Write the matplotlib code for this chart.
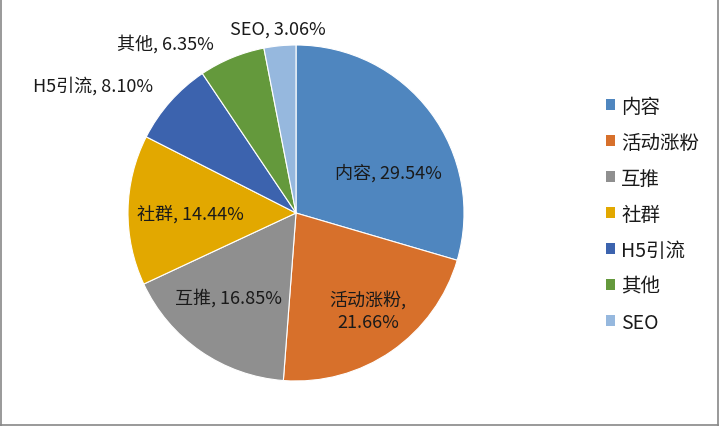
import matplotlib
matplotlib.use("Agg")
import matplotlib.pyplot as plt
import numpy as np
from matplotlib.patches import Patch
from matplotlib.lines import Line2D

plt.rcParams['font.family'] = ['Noto Sans CJK SC', 'DejaVu Sans']

categories = ['内容', '活动涨粉', '互推', '社群', 'H5引流', '其他', 'SEO']
values = [29.54, 21.66, 16.85, 14.44, 8.10, 6.35, 3.06]
label_texts = ['内容, 29.54%', '活动涨粉,\n21.66%', '互推, 16.85%', '社群, 14.44%',
               'H5引流, 8.10%', '其他, 6.35%', 'SEO, 3.06%']

colors = ['#4F86BF', '#D7702B', '#8F8F8F', '#E2A800', '#3C63AE', '#64993C', '#96B8DE']
# label offsets (fraction of radius from centre)
label_offsets = [(0.55, 0.24), (0.43, -0.58), (-0.40, -0.50), (-0.63, 0.0),
                 (-1.21, 0.76), (-0.78, 1.01), (-0.11, 1.095)]

W, H = 721, 427
fig = plt.figure(figsize=(W / 100, H / 100), dpi=100)
ax = fig.add_axes([0, 0, 1, 1])

cx, cy, r = 296, H - 214, 168
wedges, _ = ax.pie(values, colors=colors, startangle=90, counterclock=False,
                   center=(cx, cy), radius=r, frame=True,
                   wedgeprops=dict(edgecolor='white', linewidth=0.8))
ax.set_xlim(0, W)
ax.set_ylim(0, H)
ax.set_aspect('equal')
ax.axis('off')

for txt, (dx, dy) in zip(label_texts, label_offsets):
    ax.text(cx + dx * r, cy + dy * r, txt, ha='center', va='center',
            fontsize=13, color='#1a1a1a', linespacing=1.3)

handles = [Patch(facecolor=c, edgecolor='none') for c in colors]
leg = fig.legend(handles, categories, loc='upper left', bbox_to_anchor=(596 / W, 1 - 87 / H),
                 frameon=False, fontsize=14, handlelength=0.5, handleheight=0.5,
                 handletextpad=0.3, labelspacing=0.77, borderpad=0)
for t in leg.get_texts():
    t.set_color('#1a1a1a')

# chart border
fig.add_artist(Line2D([0.5 / W, 0.5 / W], [0, 1], color='#888888', lw=1.2, transform=fig.transFigure))
fig.add_artist(Line2D([1 - 3 / W, 1 - 3 / W], [0, 1], color='#888888', lw=1.2, transform=fig.transFigure))
fig.add_artist(Line2D([0, 1 - 3 / W], [1.5 / H, 1.5 / H], color='#888888', lw=1.2, transform=fig.transFigure))

fig.savefig('out.png', dpi=100, facecolor='white')
